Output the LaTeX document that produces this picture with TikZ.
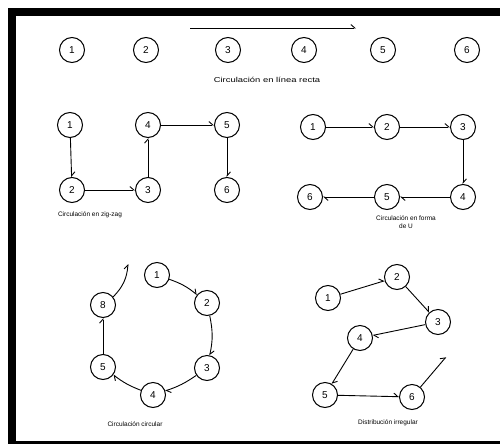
\documentclass[tikz,border=0pt]{standalone}
\usepackage{fontspec}
\setmainfont{Liberation Sans}
\usetikzlibrary{arrows.meta}
\begin{document}
\begin{tikzpicture}[x=1pt,y=-1pt,
  st/.style={draw,circle,line width=1pt,minimum size=25pt,inner sep=0pt,font=\fontsize{10}{10}\selectfont},
  flow/.style={line width=0.9pt,-{Straight Barb[harpoon,length=4pt,width=7pt,line width=0.9pt]}},
  lbl/.style={font=\fontsize{6.5}{7.5}\selectfont,align=center}]
\useasboundingbox (0,0) rectangle (500,444);
\fill[white] (0,0) rectangle (500,444);
% frame
\fill[black] (8,8) rectangle (500,16);
\fill[black] (8,8) rectangle (16,444);
\fill[black] (16,441) rectangle (500,444);

% straight line
\foreach \i/\x in {1/72,2/146,3/228,4/304,5/383,6/467}
  \node[st] (r\i) at (\x,50) {\i};
\coordinate (ra) at (190,28);
\coordinate (rb) at (356,28);
\draw[flow] (ra) -- (rb);
\node[lbl] (rl) at (267,80) {\scalebox{1.45}[1.1]{Circulación en línea recta}};

% zig-zag
\node[st] (z1) at (70,125) {1};
\node[st] (z4) at (148,125) {4};
\node[st] (z5) at (227,125) {5};
\node[st] (z2) at (72,190) {2};
\node[st] (z3) at (148,190) {3};
\node[st] (z6) at (227,190) {6};
\draw[flow] (z1) -- (z2);
\draw[flow] (z2) -- (z3);
\draw[flow] (z3) -- (z4);
\draw[flow] (z4) -- (z5);
\draw[flow] (z5) -- (z6);
\node[lbl] (zl) at (90,215) {Circulación en zig-zag};

% U
\node[st] (u1) at (313,127) {1};
\node[st] (u2) at (387,127) {2};
\node[st] (u3) at (463,127) {3};
\node[st] (u4) at (463,197) {4};
\node[st] (u5) at (387,197) {5};
\node[st] (u6) at (310,197) {6};
\draw[flow] (u1) -- (u2);
\draw[flow] (u2) -- (u3);
\draw[flow] (u3) -- (u4);
\draw[flow] (u4) -- (u5);
\draw[flow] (u5) -- (u6);
\node[lbl] (ul) at (406,222) {Circulación en forma\\de U};

% circular
\node[st] (c1) at (157,275) {1};
\node[st] (c2) at (207,303) {2};
\node[st] (c3) at (207,368) {3};
\node[st] (c4) at (153,395) {4};
\node[st] (c5) at (103,367) {5};
\node[st] (c6) at (103,305) {8};
\coordinate (cf) at (128,264);
\draw[flow] (c1) to[bend left=10] (c2);
\draw[flow] (c2) to[bend left=12] (c3);
\draw[flow] (c3) to[bend left=8] (c4);
\draw[flow] (c4) to[bend left=8] (c5);
\draw[flow] (c5) -- (c6);
\draw[flow] (c6) to[bend right=20] (cf);
\node[lbl] (cl) at (135,424) {Circulación circular};

% irregular
\node[st] (i1) at (328,298) {1};
\node[st] (i2) at (397,277) {2};
\node[st] (i3) at (438,322) {3};
\node[st] (i4) at (360,338) {4};
\node[st] (i5) at (325,395) {5};
\node[st] (i6) at (412,397) {6};
\coordinate (if) at (446,357);
\draw[flow] (i1) -- (i2);
\draw[flow] (i2) -- (i3);
\draw[flow] (i3) -- (i4);
\draw[flow] (i4) -- (i5);
\draw[flow] (i5) -- (i6);
\draw[flow] (i6) -- (if);
\node[lbl] (il) at (388,423) {Distribución irregular};
\end{tikzpicture}
\end{document}
